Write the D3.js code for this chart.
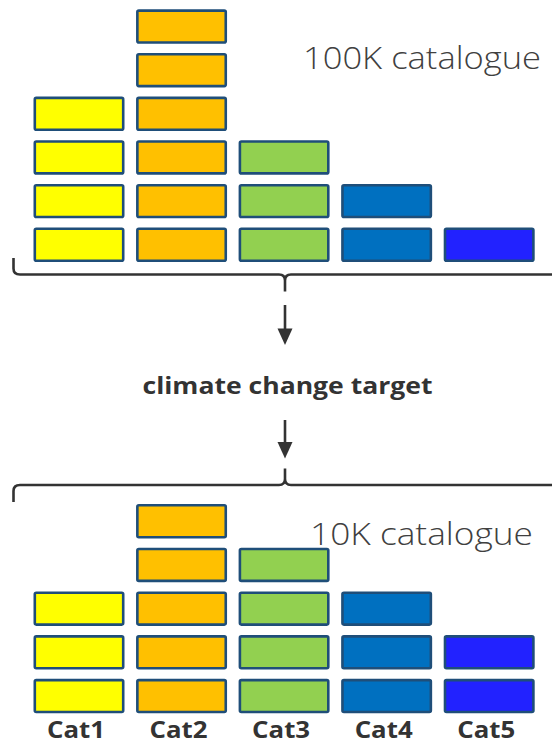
<!DOCTYPE html>
<html>
<head>
<meta charset="utf-8">
<script src="https://cdn.jsdelivr.net/npm/d3@7"></script>
<style>
  html, body { margin: 0; padding: 0; background: #ffffff; }
  svg { display: block; }
</style>
</head>
<body>
<svg id="chart" width="552" height="745"></svg>
<script>
// ---- data ----
const categories = ["Cat1", "Cat2", "Cat3", "Cat4", "Cat5"];
const catalogue100K = [4, 6, 3, 2, 1];   // blocks per category, 100K catalogue
const catalogue10K  = [3, 5, 4, 3, 2];   // blocks per category, 10K catalogue
const colors = ["#FFFF00", "#FFC000", "#92D050", "#0070C0", "#2222FF"];
const topLabel = "100K catalogue";
const bottomLabel = "10K catalogue";
const middleLabel = "climate change target";

// ---- layout ----
const svg = d3.select("#chart");
const W = 552;
const sw = 2.6;
const strokeCol = "#1F4E79";

const x = d3.scaleBand()
  .domain(categories)
  .range([33.5, 534.7])
  .paddingInner(0.1126)
  .paddingOuter(0);

const topRows = d3.range(6).reverse();
const yTop = d3.scaleBand().domain(topRows).range([9.3, 262]).paddingInner(0.21);
const botRows = d3.range(5).reverse();
const yBot = d3.scaleBand().domain(botRows).range([504, 713.3]).paddingInner(0.21);

function drawStack(values, yScale, cls) {
  const blocks = [];
  categories.forEach((c, i) => {
    for (let k = 0; k < values[i]; k++) blocks.push({ cat: c, level: k, color: colors[i] });
  });
  svg.append("g").attr("class", cls)
    .selectAll("rect").data(blocks).join("rect")
    .attr("x", d => x(d.cat) + sw / 2)
    .attr("y", d => yScale(d.level) + sw / 2)
    .attr("width", x.bandwidth() - sw)
    .attr("height", yScale.bandwidth() - sw)
    .attr("rx", 1.5)
    .attr("fill", d => d.color)
    .attr("stroke", strokeCol)
    .attr("stroke-width", sw);
}

drawStack(catalogue100K, yTop, "top-stack");
drawStack(catalogue10K, yBot, "bottom-stack");

// ---- braces ----
const cx = 285;
const lineCol = "#333333";
function brace(yLine, yEnd, yCusp) {
  const dir = Math.sign(yEnd - yLine);
  const cdir = Math.sign(yCusp - yLine);
  const p = d3.path();
  p.moveTo(13.5, yEnd);
  p.lineTo(13.5, yLine + dir * 6);
  p.quadraticCurveTo(13.5, yLine, 20, yLine);
  p.lineTo(cx - 6, yLine);
  p.quadraticCurveTo(cx, yLine, cx, yLine + cdir * 6);
  p.lineTo(cx, yCusp);
  p.moveTo(cx, yLine + cdir * 6);
  p.quadraticCurveTo(cx, yLine, cx + 6, yLine);
  p.lineTo(W + 2, yLine);
  svg.append("path").attr("d", p.toString())
    .attr("fill", "none").attr("stroke", lineCol)
    .attr("stroke-width", 2.6).attr("stroke-linecap", "butt");
}
brace(274.5, 258, 291.5);
brace(485, 502, 468.5);

// ---- arrows ----
function arrow(y0, yHead, yTip) {
  svg.append("line").attr("x1", cx).attr("x2", cx).attr("y1", y0).attr("y2", yHead + 1)
    .attr("stroke", lineCol).attr("stroke-width", 2.6);
  svg.append("path")
    .attr("d", `M${cx - 7.5},${yHead} L${cx + 7.5},${yHead} L${cx},${yTip} Z`)
    .attr("fill", lineCol);
}
arrow(305, 328.5, 345);
arrow(420, 442, 458.5);

// ---- texts ----
const font = "'Open Sans', 'DejaVu Sans', sans-serif";
svg.append("text")
  .attr("x", 303).attr("y", 69)
  .attr("font-family", font)
  .attr("font-weight", 300)
  .attr("font-size", 31)
  .attr("fill", "#404040")
  .attr("textLength", 238).attr("lengthAdjust", "spacingAndGlyphs")
  .text(topLabel);

svg.append("text")
  .attr("x", 310).attr("y", 545)
  .attr("font-family", font)
  .attr("font-weight", 300)
  .attr("font-size", 31)
  .attr("fill", "#404040")
  .attr("textLength", 223).attr("lengthAdjust", "spacingAndGlyphs")
  .text(bottomLabel);

svg.append("text")
  .attr("x", 287.5).attr("y", 394)
  .attr("text-anchor", "middle")
  .attr("font-family", font)
  .attr("font-weight", 700)
  .attr("font-size", 23)
  .attr("fill", "#333333")
  .attr("textLength", 290).attr("lengthAdjust", "spacingAndGlyphs")
  .text(middleLabel);

svg.append("g").selectAll("text").data(categories).join("text")
  .attr("x", d => x(d) + x.bandwidth() / 2 - 3)
  .attr("y", 738)
  .attr("text-anchor", "middle")
  .attr("font-family", font)
  .attr("font-weight", 700)
  .attr("font-size", 23)
  .attr("fill", "#333333")
  .attr("textLength", 58).attr("lengthAdjust", "spacingAndGlyphs")
  .text(d => d);
</script>
</body>
</html>
